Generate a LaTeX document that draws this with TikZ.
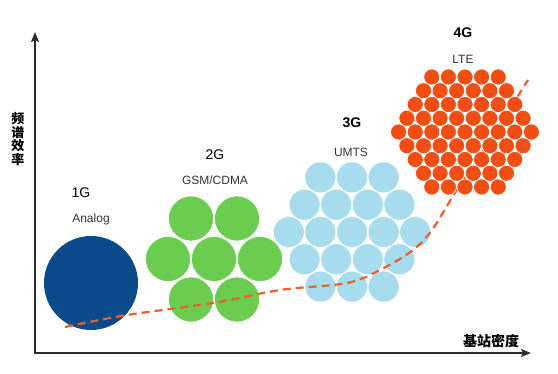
\documentclass[tikz,border=0pt]{standalone}
\usepackage{fontspec}
\setmainfont{Liberation Sans}
\newfontfamily\cjk{Noto Sans CJK SC}
\usetikzlibrary{arrows.meta}
\definecolor{oneg}{HTML}{0B4A8B}
\definecolor{twog}{HTML}{6ACD4F}
\definecolor{threeg}{HTML}{A6DCEE}
\definecolor{fourg}{HTML}{F24D12}
\definecolor{curvec}{HTML}{E8602A}
\definecolor{axisc}{HTML}{2E2E2E}
\definecolor{subc}{HTML}{333333}
\begin{document}
\begin{tikzpicture}[x=1pt,y=-1pt,
  axisline/.style={draw=axisc,line width=2pt,-{Stealth[length=10pt,width=8pt,inset=2pt]}},
  gen/.style={font=\fontsize{14}{16}\selectfont,text=black},
  genb/.style={font=\fontsize{14}{16}\selectfont\bfseries,text=black},
  sub/.style={font=\fontsize{12}{14}\selectfont,text=subc},
  cjklabel/.style={font=\cjk\bfseries\fontsize{14}{14}\selectfont,text=black},
  trend/.style={draw=curvec,line width=2.2pt,dash pattern=on 8pt off 5pt},
  cell/.style={draw=white,line width=0.6pt}]
\useasboundingbox (0,0) rectangle (558,374);
% axes
\coordinate (origin) at (35,353);
\coordinate (ytip) at (35,32);
\coordinate (xtip) at (531,353);
\draw[axisline] ([yshift=-1pt]origin) -- (ytip);
\draw[axisline] ([xshift=-1pt]origin) -- (xtip);
\node[cjklabel,align=center,font=\cjk\bfseries\fontsize{13}{13.5}\selectfont] (ylab) at (18,139) {频\\谱\\效\\率};
\node[cjklabel] (xlab) at (491,341) {基站密度};
% 1G
\fill[oneg] (91,283) circle[radius=47pt];
% 2G
\foreach \r/\n in {-1/2,0/3,1/2}{
  \foreach \i in {1,...,\n}{
    \fill[twog,cell] ({214+(\i-(\n+1)/2)*46},{259+\r*40.5}) circle[radius=22.5pt];
  }
}
% 3G
\foreach \r in {-2,...,2}{
  \pgfmathtruncatemacro\n{5-abs(\r)}
  \foreach \i in {1,...,\n}{
    \fill[threeg,cell] ({352+(\i-(\n+1)/2)*31.6},{232+\r*27.3}) circle[radius=15.5pt];
  }
}
% trend curve
\draw[trend] plot[smooth,tension=0.55] coordinates {(65,327) (127,315) (213,303) (280,290) (347,283) (382,269) (413,250) (432,230) (455,193) (492,137) (528,80)};
% 4G
\foreach \r in {-4,...,4}{
  \pgfmathtruncatemacro\n{9-abs(\r)}
  \foreach \i in {1,...,\n}{
    \fill[fourg,cell] ({465+(\i-(\n+1)/2)*16.6},{132+\r*13.75}) circle[radius=8pt];
  }
}
% labels
\node[gen] (g1) at (81,193) {1G};
\node[sub] (s1) at (91,219) {Analog};
\node[gen] (g2) at (215,155) {2G};
\node[sub] (s2) at (215,180) {GSM/CDMA};
\node[genb] (g3) at (352,123) {3G};
\node[sub] (s3) at (351,152) {UMTS};
\node[genb] (g4) at (463,33) {4G};
\node[sub] (s4) at (463,59) {LTE};
\end{tikzpicture}
\end{document}
